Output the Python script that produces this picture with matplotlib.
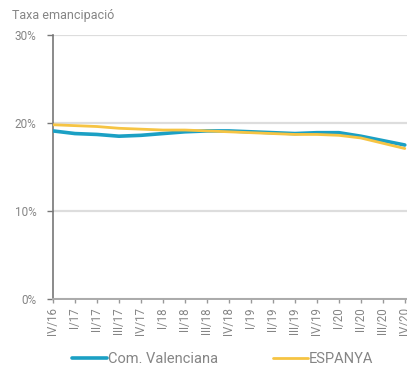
import matplotlib
matplotlib.use("Agg")
import matplotlib.pyplot as plt

# quarters
labels = ["IV/16", "I/17", "II/17", "III/17", "IV/17", "I/18", "II/18", "III/18",
          "IV/18", "I/19", "II/19", "III/19", "IV/19", "I/20", "II/20", "III/20", "IV/20"]

# taxa emancipacio (%)
com_valenciana = [19.1, 18.8, 18.7, 18.5, 18.6, 18.8, 19.0, 19.1, 19.1, 19.0,
                  18.9, 18.8, 18.9, 18.9, 18.5, 18.0, 17.5]
espanya = [19.8, 19.7, 19.6, 19.4, 19.3, 19.2, 19.2, 19.1, 19.0, 18.9,
           18.8, 18.7, 18.7, 18.6, 18.3, 17.7, 17.1]

yticks = [0, 10, 20, 30]
ytick_labels = ["0%", "10%", "20%", "30%"]

plt.rcParams['font.family'] = ['Roboto', 'DejaVu Sans']
grey = "#858585"

fig = plt.figure(figsize=(4.07, 3.68), dpi=100)
ax = fig.add_axes([53/407, 69/368, 354/407, 264/368])

x = list(range(len(labels)))
ax.plot(x, com_valenciana, color="#1ba0c4", lw=2.6, solid_joinstyle="round",
        solid_capstyle="round", label="Com. Valenciana", zorder=3)
ax.plot(x, espanya, color="#f6c443", lw=2.0, solid_joinstyle="round",
        solid_capstyle="round", label="ESPANYA", zorder=4)

ax.set_xlim(0, 16.1)
ax.set_ylim(0, 30)
ax.set_yticks(yticks)
ax.set_yticklabels(ytick_labels, color=grey, fontsize=8.5)
ax.set_xticks(x)
ax.set_xticklabels(labels, rotation=90, color=grey, fontsize=8.3)
ax.tick_params(axis="y", length=4, width=1, color="#777777", pad=8)
ax.tick_params(axis="x", length=3, width=1, color="#999999", pad=3)

ax.grid(axis="y", color="#dddddd", lw=1.6)
ax.set_axisbelow(True)
for s in ["top", "right"]:
    ax.spines[s].set_visible(False)
ax.spines["left"].set_color("#777777")
ax.spines["left"].set_linewidth(1.2)
ax.spines["bottom"].set_color("#aaaaaa")
ax.spines["bottom"].set_linewidth(1.4)

fig.text(12/407, 1 - 16/368, "Taxa emancipació", color=grey, fontsize=9, va="center")

fig.legend(loc="center left", bbox_to_anchor=(72/407, 9/368), ncol=2, frameon=False,
           fontsize=10.5, handlelength=2.4, columnspacing=3.7, labelcolor=grey,
           handletextpad=0.1, borderpad=0, borderaxespad=0)

fig.savefig("out.png", dpi=100)
